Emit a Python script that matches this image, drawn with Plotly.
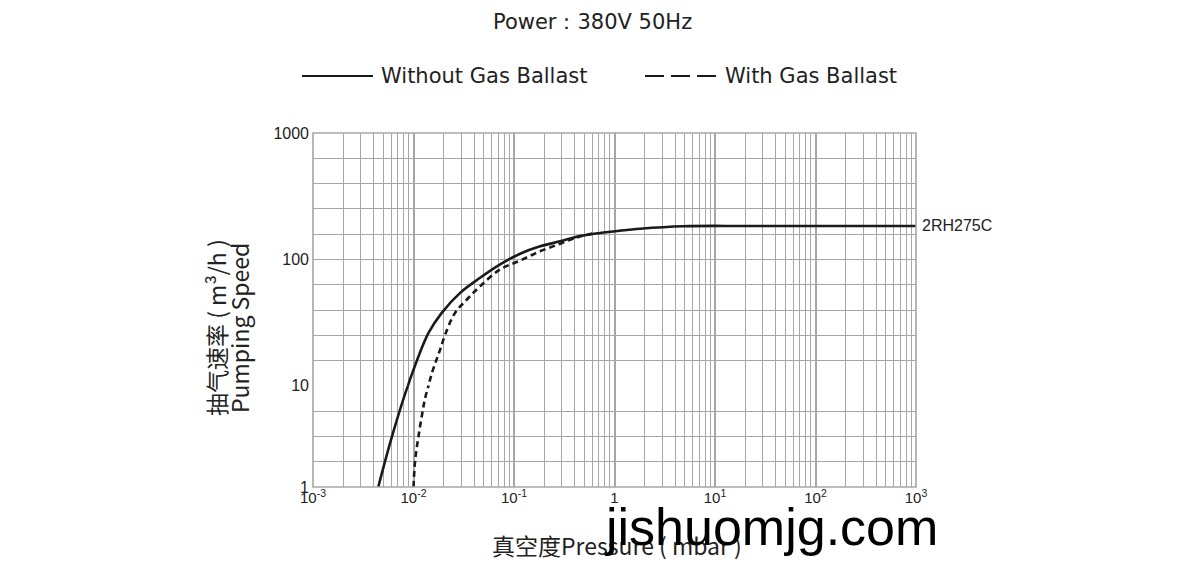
import plotly.graph_objects as go
from plotly.subplots import make_subplots

# ---- data ----
pressure_no_gb = [0.00446, 0.0061, 0.0088, 0.0100, 0.0141, 0.0191,
                  0.0291, 0.046, 0.0728, 0.115, 0.182, 0.287, 0.454, 0.718, 1.135, 1.80, 4.8,
                  20, 100, 1000]
speed_no_gb = [1, 3.15, 10, 13.4, 26.2, 37.8,
               54.4, 71.6, 91.4, 111, 127, 139, 153, 162, 169, 175, 183,
               184, 184, 184]

pressure_gb = [0.0100, 0.0104, 0.0112, 0.01239, 0.01305, 0.0141, 0.01524, 0.0167, 0.0184,
               0.02065, 0.0259, 0.034, 0.046, 0.0728, 0.115, 0.182, 0.287, 0.41, 0.60]
speed_gb = [1, 1.85, 3.15, 5.78, 7.55, 10, 12.6, 15.6, 19.3,
            25.4, 37.8, 48.2, 61.4, 83.4, 98, 116, 133, 148, 160]

x_tick_vals = [1e-3, 1e-2, 1e-1, 1, 10, 100, 1000]
x_tick_text = ["10<sup>-3</sup>", "10<sup>-2</sup>", "10<sup>-1</sup>", "1",
               "10<sup>1</sup>", "10<sup>2</sup>", "10<sup>3</sup>"]
y_labels_low = {1: "1", 10: "10"}
y_labels_high = {100: "100", 1000: "1000"}
model_name = "2RH275C"

GRID = "#a6a6a6"
INK = "#1a1a1a"
TXT = "#222222"
FONT = "Liberation Sans, Arial, sans-serif"
WIDE = "DejaVu Sans, sans-serif"
CJK = "Noto Sans CJK SC, sans-serif"


def segment(xs, ys, low):
    """Points of one decade band plus one neighbour beyond the boundary (clipped by the axis)."""
    idx = [i for i, y in enumerate(ys) if (y <= 10 if low else y >= 10)]
    lo, hi = min(idx), max(idx)
    if low and hi + 1 < len(xs):
        hi += 1
    if not low and lo - 1 >= 0:
        lo -= 1
    return xs[lo:hi + 1], ys[lo:hi + 1]


fig = make_subplots(rows=2, cols=1, shared_xaxes=True, vertical_spacing=0,
                    row_heights=[10 / 14, 4 / 14])

for low, row in [(False, 1), (True, 2)]:
    xs, ys = segment(pressure_no_gb, speed_no_gb, low)
    fig.add_trace(go.Scatter(x=xs, y=ys, mode="lines",
                             line=dict(color=INK, width=2.6, shape="spline", smoothing=1),
                             showlegend=False, hoverinfo="skip"), row=row, col=1)
    xs, ys = segment(pressure_gb, speed_gb, low)
    fig.add_trace(go.Scatter(x=xs, y=ys, mode="lines",
                             line=dict(color=INK, width=2.6, dash="6px,4px", shape="spline", smoothing=1),
                             showlegend=False, hoverinfo="skip"), row=row, col=1)

minor_x = [m * 10 ** d for d in range(-3, 3) for m in range(2, 10)]

for r in (1, 2):
    fig.update_xaxes(type="log", range=[-3, 3], tickmode="array", tickvals=x_tick_vals,
                     ticktext=x_tick_text if r == 2 else [""] * len(x_tick_vals),
                     showgrid=True, gridcolor=GRID, gridwidth=2, ticks="", zeroline=False,
                     showline=False,
                     minor=dict(tickvals=minor_x, showgrid=True, gridcolor=GRID, gridwidth=1.3, ticks=""),
                     tickfont=dict(family=FONT, size=15, color=TXT),
                     row=r, col=1)

high_vals = [10 ** (1 + k / 5) for k in range(11)]
fig.update_yaxes(type="log", range=[1, 3], tickmode="array", tickvals=high_vals,
                 ticktext=[y_labels_high.get(round(v), "") if abs(v - round(v)) < 1e-6 else "" for v in high_vals],
                 showgrid=True, gridcolor=GRID, gridwidth=1.3, ticks="", zeroline=False, showline=False,
                 tickfont=dict(family=FONT, size=16, color=TXT), ticklabelstandoff=3, row=1, col=1)
low_vals = [10 ** (k / 4) for k in range(5)]
fig.update_yaxes(type="log", range=[0, 1], tickmode="array", tickvals=low_vals,
                 ticktext=[y_labels_low.get(round(v), "") if abs(v - round(v)) < 1e-6 else "" for v in low_vals],
                 showgrid=True, gridcolor=GRID, gridwidth=1.3, ticks="", zeroline=False, showline=False,
                 tickfont=dict(family=FONT, size=16, color=TXT), ticklabelstandoff=3, row=2, col=1)

# plot frame
fig.add_shape(type="rect", xref="paper", yref="paper", x0=0, x1=1, y0=0, y1=1,
              line=dict(color=GRID, width=1.6), layer="above")

# model label at end of curve
fig.add_annotation(x=3, y=2.265, xref="x", yref="y", text=model_name, showarrow=False,
                   xanchor="left", yanchor="middle", xshift=4, font=dict(family=FONT, size=16, color=TXT))

# figure is placed at page offset (8, 8) by the page body margin
OFF = 8
W, H = 1200 - 2 * OFF, 569 - 2 * OFF
L, R, T, B = 305, 908, 125, 479


def px(x_page):
    return (x_page - OFF - L) / (R - L)


def py(y_page):
    return (B - (y_page - OFF)) / (B - T)


def label(x, y, text, font, xanchor="center", **kw):
    fig.add_annotation(x=px(x), y=py(y), xref="paper", yref="paper", text=text, showarrow=False,
                       xanchor=xanchor, yanchor="middle", font=font, **kw)


# title
label(592, 22, "Power：380V 50Hz", dict(family=WIDE, size=21, color=TXT))
# legend (manual)
fig.add_shape(type="line", xref="paper", yref="paper", x0=px(302), x1=px(373), y0=py(76), y1=py(76),
              line=dict(color=INK, width=2.2))
label(379, 76, "Without Gas Ballast", dict(family=WIDE, size=21, color=TXT), xanchor="left")
fig.add_shape(type="line", xref="paper", yref="paper", x0=px(645), x1=px(716), y0=py(76), y1=py(76),
              line=dict(color=INK, width=2.2, dash="19px,7px"))
label(723, 76, "With Gas Ballast", dict(family=WIDE, size=21, color=TXT), xanchor="left")
# axis titles
label(216, 328, "抽气速率 ( m³/h )", dict(family=CJK, size=23, color=TXT), textangle=-90)
label(239, 328, "Pumping Speed", dict(family=CJK, size=23, color=TXT), textangle=-90)
label(617, 545, "真空度Pressure ( mbar )", dict(family=CJK, size=23, color=TXT))
# watermark
label(771, 527, "jishuomjg.com", dict(family=FONT, size=52, color="#000000"))

fig.update_layout(width=W, height=H, margin=dict(l=L, r=W - R, t=T, b=H - B),
                  paper_bgcolor="white", plot_bgcolor="white", showlegend=False)

fig.write_html("out.html")
